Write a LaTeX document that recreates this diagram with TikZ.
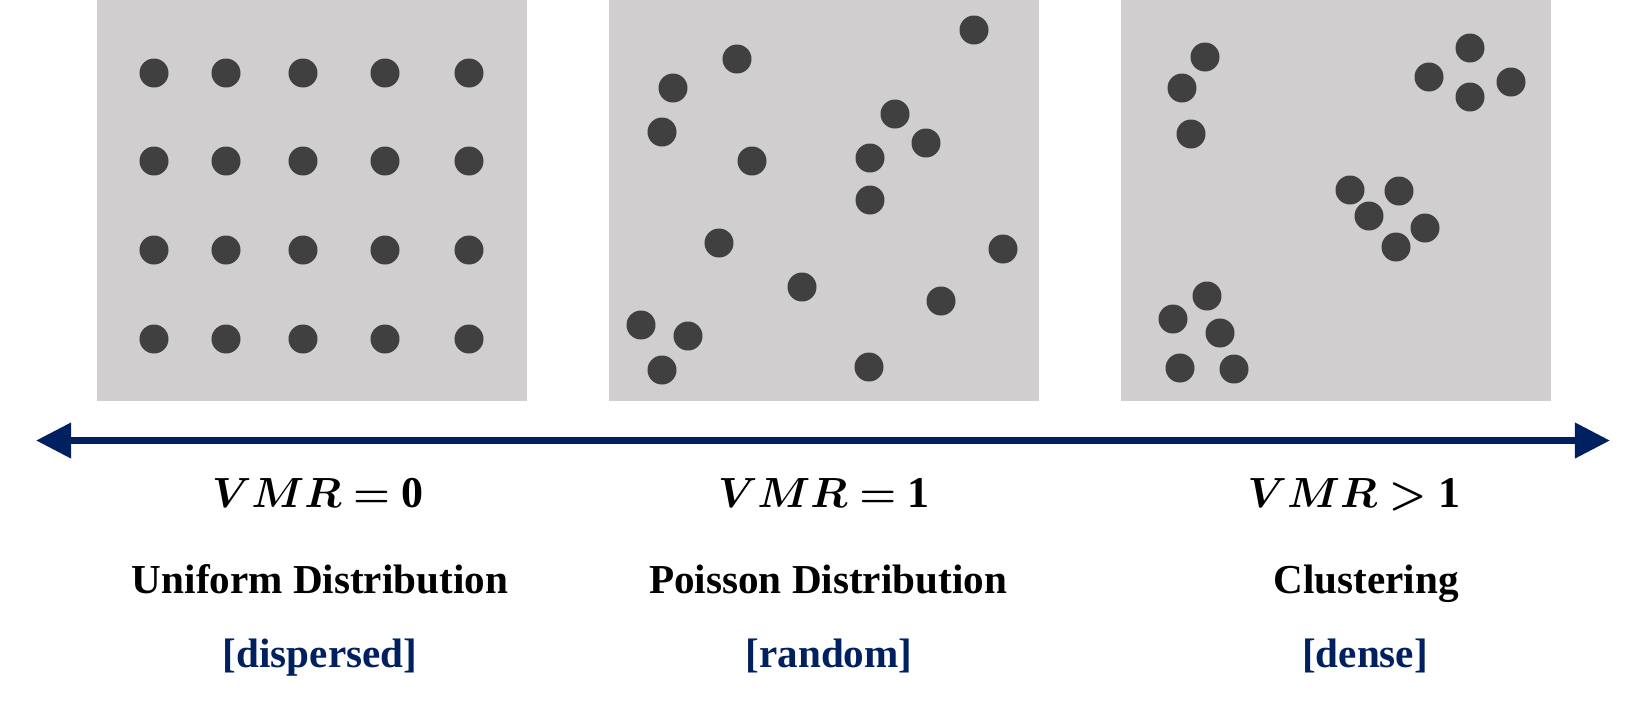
\documentclass[tikz,border=0pt]{standalone}
\usepackage{amsmath, bm, tikz}
\usepackage{fontspec}
\setmainfont{Liberation Serif}
\usetikzlibrary{arrows.meta}
\definecolor{panelgray}{HTML}{D0CECE}
\definecolor{dotgray}{HTML}{404040}
\definecolor{navy}{HTML}{002060}
\tikzset{
  panel/.style={fill=panelgray},
  dot/.style={circle, fill=dotgray, inner sep=0pt, minimum size=0.29cm},
  axis/.style={navy, line width=0.07cm, {Triangle[length=0.35cm, width=0.34cm]}-{Triangle[length=0.35cm, width=0.34cm]}},
  vmr/.style={anchor=base, font=\fontsize{12.5}{15}\selectfont},
  kind/.style={anchor=base, font=\fontsize{11.7}{14}\selectfont\bfseries},
  tag/.style={kind, text=navy},
}
\begin{document}
\begin{tikzpicture}[x=0.01cm, y=-0.01cm]
\useasboundingbox (0,0) rectangle (1645,702);
\fill[panel] (97,0) rectangle (527,401);
\fill[panel] (609,0) rectangle (1039,401);
\fill[panel] (1121,0) rectangle (1551,401);
\foreach \x [count=\i] in {154,226,303,385,469}
  \foreach \y [count=\j] in {73,161,250,339}
    \node[dot] (u\i\j) at (\x,\y) {};
\foreach \x/\y [count=\i] in {974/30, 737/59, 673/88, 662/132, 752/161, 895/114,
    926/143, 870/158, 870/200, 719/243, 1003/249, 802/287, 941/301, 641/325,
    688/336, 662/370, 869/367}
  \node[dot] (r\i) at (\x,\y) {};
\foreach \x/\y [count=\i] in {1205/57, 1182/88, 1191/134, 1470/48, 1429/77,
    1470/97, 1511/82, 1350/190, 1399/191, 1369/216, 1425/228, 1396/247,
    1207/296, 1173/319, 1220/333, 1180/368, 1234/369}
  \node[dot] (c\i) at (\x,\y) {};
\coordinate (west) at (36,440.5);
\coordinate (east) at (1610,440.5);
\draw[axis] (west) -- (east);
\node[vmr] (vmr0) at (318,507) {$\bm{VMR=}\textbf{0}$};
\node[vmr] (vmr1) at (824,507) {$\bm{VMR=}\textbf{1}$};
\node[vmr] (vmr2) at (1354,507) {$\bm{VMR>}\textbf{1}$};
\node[kind] (uniform) at (320,593) {Uniform Distribution};
\node[kind] (poisson) at (828,593) {Poisson Distribution};
\node[kind] (cluster) at (1366,593) {Clustering};
\node[tag] (dispersed) at (320,667) {[dispersed]};
\node[tag] (random) at (829,667) {[random]};
\node[tag] (dense) at (1365,667) {[dense]};
\end{tikzpicture}
\end{document}
